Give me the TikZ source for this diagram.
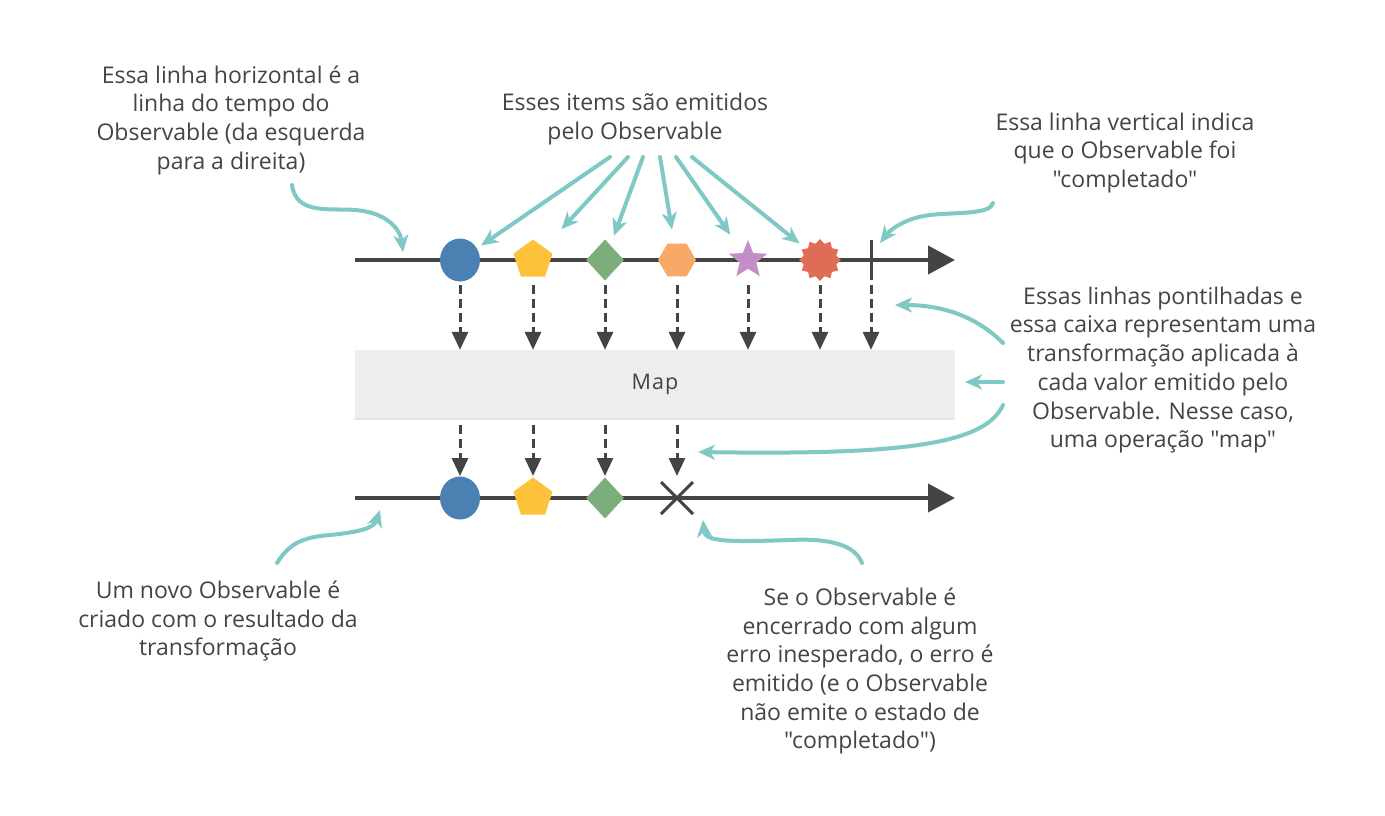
\documentclass[tikz,border=0pt]{standalone}
\usepackage{fontspec}
\setmainfont{Open Sans}[Ligatures=TeXOff]
\usetikzlibrary{shapes.geometric,arrows.meta,positioning,shadows}
\definecolor{axisgray}{RGB}{68,68,68}
\definecolor{hintteal}{RGB}{126,200,197}
\definecolor{boxgray}{RGB}{237,237,235}
\definecolor{itemblue}{RGB}{74,129,178}
\definecolor{itemyellow}{RGB}{253,193,58}
\definecolor{itemgreen}{RGB}{123,174,123}
\definecolor{itemorange}{RGB}{248,168,103}
\definecolor{itempurple}{RGB}{195,141,197}
\definecolor{itemred}{RGB}{224,107,86}

\tikzset{
	axisline/.style={axisgray, line width=4pt, -{Triangle[length=27pt,width=28pt]}},
	flowarrow/.style={axisgray, line width=3pt, dash pattern=on 9pt off 5pt, -{Triangle[length=18pt,width=16pt]}},
	hint/.style={hintteal, line width=4pt, line cap=round, -{Stealth[length=17pt,width=15pt,inset=5pt]}},
	notetext/.style={text=axisgray, align=center, font=\fontsize{23}{28.7}\selectfont},
	item/.style={inner sep=0pt, draw=none},
	ball/.style={item, ellipse, minimum width=40pt, minimum height=43pt, fill=itemblue},
	pent/.style={item, regular polygon, regular polygon sides=5, minimum size=41pt, fill=itemyellow},
	gem/.style={item, diamond, minimum width=38pt, minimum height=41pt, fill=itemgreen},
	hexa/.style={item, regular polygon, regular polygon sides=6, minimum size=38pt, fill=itemorange},
	starry/.style={item, star, star points=5, star point ratio=2.3, minimum size=40pt, fill=itempurple},
	burst/.style={item, star, star points=12, star point ratio=1.25, minimum size=42pt, fill=itemred}
}

\begin{document}
\begin{tikzpicture}[x=1pt,y=-1pt]
	\useasboundingbox[fill=white] (0,0) rectangle (1385,815);

	% source observable
	\coordinate (topstart) at (355,260);
	\coordinate (topend) at (955,260);
	\draw[axisline] (topstart) -- (topend);
	\foreach \n/\x/\s in {a1/460/ball, a2/533/pent, a3/605/gem, a4/677/hexa, a5/748/starry, a6/820/burst}
		\node[\s] (\n) at (\x,260) {};
	\coordinate (done) at (871,260);
	\draw[axisgray, line width=3pt] ([yshift=20pt]done) -- ([yshift=-20pt]done);

	% operator box
	\node[fill=boxgray, minimum width=600pt, minimum height=68pt, drop shadow={opacity=0.2, shadow xshift=0pt, shadow yshift=-2pt}, text=axisgray, font=\fontsize{21.5}{24}\selectfont\addfontfeature{LetterSpace=5}] (map) at (655,384) {Map};

	\coordinate (topflow) at (0,285);
	\foreach \n in {a1,a2,a3,a4,a5,a6,done}
		\draw[flowarrow] (\n |- topflow) -- (\n |- map.north);

	% result observable
	\coordinate (botstart) at (355,498);
	\coordinate (botend) at (955,498);
	\draw[axisline] (botstart) -- (botend);
	\foreach \n/\x/\s in {b1/460/ball, b2/533/pent, b3/605/gem}
		\node[\s] (\n) at (\x,498) {};
	\coordinate (err) at (677,498);
	\draw[axisgray, line width=3pt] ([shift={(-16pt,16pt)}]err) -- ([shift={(16pt,-16pt)}]err)
		([shift={(-16pt,-16pt)}]err) -- ([shift={(16pt,16pt)}]err);

	\coordinate (botflow) at (0,425);
	\coordinate (bottip) at (0,476);
	\foreach \n in {b1,b2,b3,err}
		\draw[flowarrow] (\n |- botflow) -- (\n |- bottip);

	% notes
	\node[notetext] (linenote) at (231,120) {Essa linha horizontal é a\\linha do tempo do\\Observable (da esquerda\\para a direita)};
	\node[notetext] (itemsnote) at (635,119) {Esses items são emitidos\\pelo Observable};
	\node[notetext] (endnote) at (1125,153) {Essa linha vertical indica\\que o Observable foi\\"completado"};
	\node[notetext] (mapnote) at (1163,370) {Essas linhas pontilhadas e\\essa caixa representam uma\\transformação aplicada à\\cada valor emitido pelo\\Observable. Nesse caso,\\uma operação "map"};
	\node[notetext] (newnote) at (218,621) {Um novo Observable é\\criado com o resultado da\\transformação};
	\node[notetext] (errnote) at (860,671) {Se o Observable é\\encerrado com algum\\erro inesperado, o erro é\\emitido (e o Observable\\não emite o estado de\\"completado")};

	% hint arrows
	\coordinate (itemsfoot) at (650,157);
	\foreach \d/\n/\c in {-40/a1/5, -22/a2/25, -7/a3/10, 10/a4/14, 26/a5/22, 42/a6/8}
		\draw[hint, shorten >=\c pt] ([xshift=\d pt]itemsfoot) -- (\n);

	\coordinate (linefoot) at (292,185);
	\coordinate (linetip) at (403,252);
	\draw[hint] (linefoot) .. controls (296,215) and (330,208) .. (355,210)
		.. controls (385,212) and (400,228) .. (linetip);

	\coordinate (endfoot) at (993,203);
	\coordinate (endtip) at (880,243);
	\draw[hint] (endfoot) .. controls (990,215) and (955,212) .. (930,215)
		.. controls (905,218) and (890,230) .. (endtip);

	\coordinate (mapfoot1) at (1003,343);
	\coordinate (mapfoot2) at (1003,382);
	\coordinate (mapfoot3) at (1003,405);
	\coordinate (flowtip) at (895,305);
	\coordinate (boxtip) at (965,382);
	\coordinate (errtip) at (698,452);
	\draw[hint] (mapfoot1) .. controls (975,315) and (940,305) .. (flowtip);
	\draw[hint] (mapfoot2) -- (boxtip);
	\draw[hint] (mapfoot3) .. controls (985,445) and (900,455) .. (errtip);

	\coordinate (newfoot) at (277,563);
	\coordinate (newtip) at (380,510);
	\draw[hint] (newfoot) .. controls (290,542) and (305,537) .. (330,535)
		.. controls (360,532) and (374,528) .. (newtip);

	\coordinate (errfoot) at (862,563);
	\coordinate (xtip) at (703,520);
	\draw[hint] (errfoot) .. controls (855,545) and (830,538) .. (790,540)
		.. controls (730,542) and (705,542) .. (xtip);
\end{tikzpicture}
\end{document}
